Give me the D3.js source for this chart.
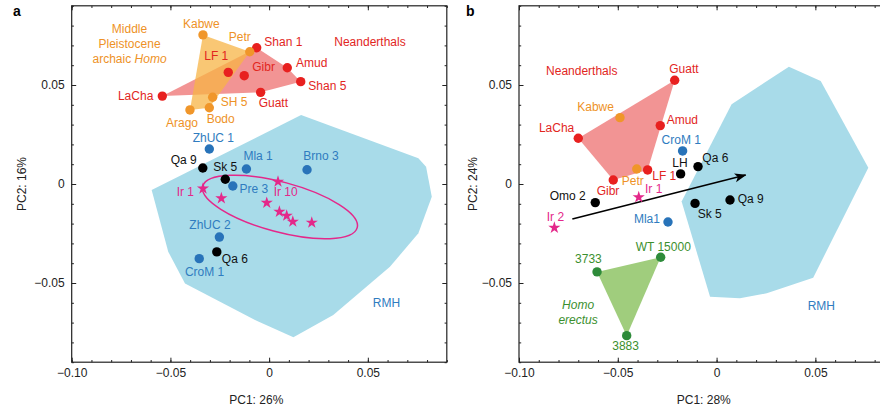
<!DOCTYPE html>
<html><head><meta charset="utf-8">
<script src="https://cdn.jsdelivr.net/npm/d3@7"></script>
<style>
body{margin:0;background:#fff;}
svg{display:block;font-family:"Liberation Sans",Arial,Helvetica,sans-serif;}
</style></head><body>
<svg id="chart" width="880" height="407"></svg>
<script>
// ---------------- DATA (PC1, PC2) ----------------
// Panel a
const aNeanderthals = [
  {name:"Shan 1", pc1:-0.0063, pc2:0.0688},
  {name:"LF 1",   pc1:-0.0207, pc2:0.0564},
  {name:"Gibr",   pc1:-0.0126, pc2:0.0547},
  {name:"Amud",   pc1:0.0092,  pc2:0.0587},
  {name:"Shan 5", pc1:0.0160,  pc2:0.0517},
  {name:"Guatt",  pc1:-0.0043, pc2:0.0463},
  {name:"LaCha",  pc1:-0.0541, pc2:0.0444}
];
const aArchaic = [
  {name:"Kabwe", pc1:-0.0335, pc2:0.0753},
  {name:"Petr",  pc1:-0.0098, pc2:0.0668},
  {name:"SH 5",  pc1:-0.0286, pc2:0.0438},
  {name:"Bodo",  pc1:-0.0303, pc2:0.0385},
  {name:"Arago", pc1:-0.0401, pc2:0.0374}
];
const aFossilMH = [
  {name:"ZhUC 1", pc1:-0.0303, pc2:0.0177},
  {name:"Mla 1",  pc1:-0.0115, pc2:0.0076},
  {name:"Brno 3", pc1:0.0192,  pc2:0.0072},
  {name:"Pre 3",  pc1:-0.0184, pc2:-0.0010},
  {name:"ZhUC 2", pc1:-0.0252, pc2:-0.0268},
  {name:"CroM 1", pc1:-0.0354, pc2:-0.0377}
];
const aQafzehSkhul = [
  {name:"Qa 9", pc1:-0.0336, pc2:0.0081},
  {name:"Sk 5", pc1:-0.0222, pc2:0.0024},
  {name:"Qa 6", pc1:-0.0265, pc2:-0.0343}
];
const aIrhoud = [
  {name:"Ir 1",  pc1:-0.0335, pc2:-0.0023},
  {name:"",      pc1:-0.0242, pc2:-0.0072},
  {name:"Ir 10", pc1:0.0045,  pc2:0.0012},
  {name:"",      pc1:-0.0012, pc2:-0.0095},
  {name:"",      pc1:0.0052,  pc2:-0.0140},
  {name:"",      pc1:0.0089,  pc2:-0.0160},
  {name:"",      pc1:0.0120,  pc2:-0.0190},
  {name:"",      pc1:0.0216,  pc2:-0.0195}
];
const aIrhoudEllipse = {pc1:0.0055, pc2:-0.0116, r1:0.0405, r2:0.0126, angle:15};
const aRMH = [
  [0.0162,0.0348],[0.0756,0.0130],[0.0795,0.0087],[0.0824,-0.0064],[0.0756,-0.0249],
  [0.0612,-0.0418],[0.0325,-0.0662],[0.0123,-0.0774],[-0.0055,-0.0695],
  [-0.0426,-0.0502],[-0.0511,-0.0342],[-0.0595,-0.0030]
];
// Panel b
const bNeanderthals = [
  {name:"Guatt", pc1:-0.0212, pc2:0.0524},
  {name:"Amud",  pc1:-0.0285, pc2:0.0295},
  {name:"LaCha", pc1:-0.0700, pc2:0.0231},
  {name:"LF 1",  pc1:-0.0349, pc2:0.0071},
  {name:"Gibr",  pc1:-0.0523, pc2:0.0020}
];
const bArchaic = [
  {name:"Kabwe", pc1:-0.0489, pc2:0.0335},
  {name:"Petr",  pc1:-0.0404, pc2:0.0076}
];
const bFossilMH = [
  {name:"CroM 1", pc1:-0.0172, pc2:0.0167},
  {name:"Mla1",   pc1:-0.0246, pc2:-0.0192}
];
const bBlack = [
  {name:"Qa 6",  pc1:-0.0094, pc2:0.0088},
  {name:"LH",    pc1:-0.0182, pc2:0.0051},
  {name:"Omo 2", pc1:-0.0614, pc2:-0.0094},
  {name:"Sk 5",  pc1:-0.0109, pc2:-0.0098},
  {name:"Qa 9",  pc1:0.0068,  pc2:-0.0081}
];
const bIrhoud = [
  {name:"Ir 1", pc1:-0.0394, pc2:-0.0067},
  {name:"Ir 2", pc1:-0.0821, pc2:-0.0221}
];
const bErectus = [
  {name:"WT 15000", pc1:-0.0283, pc2:-0.0370},
  {name:"3733",     pc1:-0.0605, pc2:-0.0444},
  {name:"3883",     pc1:-0.0455, pc2:-0.0766}
];
const bArrow = [[-0.0730,-0.0177],[0.0147,0.0045]];
const bRMH = [
  [0.0366,0.0592],[0.0527,0.0520],[0.0768,0.0082],[0.0489,-0.0473],[0.0254,-0.0552],
  [0.0118,-0.0577],[-0.0033,-0.0569],[-0.0177,-0.0089],[0.0076,0.0403]
];
// Axes
const xDomain = [-0.10, 0.09];
const yDomain = [-0.09, 0.09];
const xTickLabels = [-0.10, -0.05, 0, 0.05];
const yTickLabels = [-0.05, 0, 0.05];
const minorX = d3.range(-10, 10).map(i => i/100);
const minorY = d3.range(-9, 10).map(i => i/100);
const xTitles = ["PC1: 26%", "PC1: 28%"];
const yTitles = ["PC2: 16%", "PC2: 24%"];

// ---------------- LAYOUT / STYLE ----------------
const C = {
  red:"#e8201f", redText:"#e2261e", redFill:"#f29494",
  orange:"#f0962a", orangeText:"#ee9226", orangeFill:"rgb(247,180,70)",
  blue:"#2873b9", blueText:"#2f7cc0",
  black:"#000", pink:"#e4288a",
  green:"#2e8b3a", greenText:"#3b8f2e", greenFill:"#a0cd7d",
  rmh:"#a8dbe9"
};
// label offsets in px: [dx, dy, anchor]
const aLabelPos = {
  "Kabwe":[-20,-6.5,"start"], "Petr":[-21,-11,"start"], "Shan 1":[7.6,-2,"start"],
  "LF 1":[-24,-12,"start"], "Gibr":[8,-5,"start"], "Amud":[8.7,-1,"start"],
  "Shan 5":[7.6,8.3,"start"], "Guatt":[-2,15,"start"], "LaCha":[-9,4,"end"],
  "SH 5":[8,8.7,"start"], "Bodo":[-2.6,15.6,"start"], "Arago":[-24,17.3,"start"],
  "ZhUC 1":[-16.6,-7.3,"start"], "Qa 9":[-6,-4,"end"], "Sk 5":[-12,-8.6,"start"],
  "Mla 1":[-3,-9,"start"], "Brno 3":[-3.7,-9.7,"start"], "Pre 3":[6.6,7.3,"start"],
  "Ir 10":[-4.3,14,"start"], "Ir 1":[-9,7,"end"], "ZhUC 2":[-30,-7.7,"start"],
  "Qa 6":[5,11.3,"start"], "CroM 1":[-14.3,17.3,"start"]
};
const bLabelPos = {
  "Guatt":[-5.4,-7.6,"start"], "Kabwe":[-6,-6.7,"end"], "Amud":[6.4,-1.7,"start"],
  "LaCha":[-4,-6.6,"end"], "CroM 1":[-21,-6.7,"start"], "Qa 6":[4.3,-5,"start"],
  "LH":[-8.4,-7.3,"start"], "Petr":[-15,16,"start"], "LF 1":[4.6,10,"start"],
  "Gibr":[-16.6,15,"start"], "Ir 1":[6.3,-4,"start"], "Omo 2":[-9.6,-2.7,"end"],
  "Ir 2":[-7.6,-7,"start"], "Mla1":[-8,1.3,"end"], "Sk 5":[2.7,15,"start"],
  "Qa 9":[7.7,3.3,"start"], "WT 15000":[-25,-6.6,"start"], "3733":[-22,-8.7,"start"],
  "3883":[-14.4,14.3,"start"]
};

const svg = d3.select("#chart");
const FS = 12;
const yScale = d3.scaleLinear(yDomain, [362.2, 5.8]);
const xA = d3.scaleLinear(xDomain, [71.7, 446.8]);
const xB = d3.scaleLinear(xDomain, [519, 894.4]);
const fmt = v => v === 0 ? "0" : (v < 0 ? "\u2212" : "") + Math.abs(v).toFixed(2);

function frame(x, y, opts) {
  const g = svg.append("g");
  const [x0, x1] = x.range(), [y0, y1] = y.range();
  // ticks
  const axes = [
    {ax:d3.axisBottom(x), t:`translate(0,${y0})`, minor:minorX, major:xTickLabels, labels:true},
    {ax:d3.axisTop(x), t:`translate(0,${y1})`, minor:minorX, major:xTickLabels, labels:false},
    {ax:d3.axisLeft(y), t:`translate(${x0},0)`, minor:minorY, major:yTickLabels, labels:true}
  ];
  if (opts.right) axes.push({ax:d3.axisRight(y), t:`translate(${x1},0)`, minor:minorY, major:yTickLabels, labels:false});
  axes.forEach(a => {
    const gm = g.append("g").attr("transform", a.t)
      .call(a.ax.tickValues(a.minor).tickSizeInner(-2.2).tickSizeOuter(0).tickFormat(""));
    gm.select(".domain").remove();
    const gM = g.append("g").attr("transform", a.t)
      .call(a.ax.tickValues(a.major).tickSizeInner(-4.5).tickSizeOuter(0).tickPadding(a.ax === axes[2].ax ? 7 : 6.5)
        .tickFormat(a.labels ? fmt : ""));
    gM.select(".domain").remove();
    g.selectAll(".tick line").attr("stroke", "#222").attr("stroke-width", 1);
    gM.selectAll("text").attr("font-size", FS).attr("fill", "#222")
      .attr("font-family", '"Liberation Sans",Arial,sans-serif');
  });
  g.append("rect").attr("x", x0).attr("y", y1).attr("width", x1 - x0).attr("height", y0 - y1)
    .attr("fill", "none").attr("stroke", "#222").attr("stroke-width", 1.2);
  return g;
}

function polygon(g, x, pts, fill, op) {
  g.append("path").attr("d", "M" + pts.map(p => [x(p[0]), yScale(p[1])].join(",")).join("L") + "Z")
    .attr("fill", fill).attr("fill-opacity", op === undefined ? 1 : op);
}
function hull(g, x, group, fill, op) {
  const h = d3.polygonHull(group.map(d => [d.pc1, d.pc2]));
  polygon(g, x, h, fill, op);
}
function dots(g, x, group, color) {
  g.selectAll(null).data(group).join("circle")
    .attr("cx", d => x(d.pc1)).attr("cy", d => yScale(d.pc2)).attr("r", 4.7).attr("fill", color);
}
function stars(g, x, group, color) {
  g.selectAll(null).data(group).join("path")
    .attr("d", d3.symbol(d3.symbolStar, 46))
    .attr("transform", d => `translate(${x(d.pc1)},${yScale(d.pc2)})`).attr("fill", color);
}
function labels(g, x, group, color, pos) {
  g.selectAll(null).data(group.filter(d => d.name && pos[d.name])).join("text")
    .attr("x", d => x(d.pc1) + pos[d.name][0]).attr("y", d => yScale(d.pc2) + pos[d.name][1])
    .attr("text-anchor", d => pos[d.name][2]).attr("font-size", FS).attr("fill", color)
    .text(d => d.name);
}
function note(g, x, lines, px, py, color, anchor, italic) {
  lines.forEach((ln, i) => {
    const t = g.append("text").attr("x", x(px)).attr("y", yScale(py) + i * 15)
      .attr("text-anchor", anchor).attr("font-size", FS).attr("fill", color);
    ln.forEach(seg => t.append("tspan").attr("font-style", (italic || seg[1]) ? "italic" : "normal").text(seg[0]));
  });
}

// ---------- Panel a ----------
const gA = svg.append("g");
polygon(gA, xA, aRMH, C.rmh);
hull(gA, xA, aNeanderthals, C.redFill);
hull(gA, xA, aArchaic, C.orangeFill, 0.75);
{
  const e = aIrhoudEllipse;
  gA.append("ellipse")
    .attr("transform", `translate(${xA(e.pc1)},${yScale(e.pc2)}) rotate(${e.angle})`)
    .attr("rx", xA(e.pc1 + e.r1) - xA(e.pc1)).attr("ry", yScale(e.pc2) - yScale(e.pc2 + e.r2))
    .attr("fill", "none").attr("stroke", C.pink).attr("stroke-width", 1.5);
}
dots(gA, xA, aNeanderthals, C.red);
dots(gA, xA, aArchaic, C.orange);
dots(gA, xA, aFossilMH, C.blue);
dots(gA, xA, aQafzehSkhul, C.black);
stars(gA, xA, aIrhoud, C.pink);
labels(gA, xA, aNeanderthals, C.redText, aLabelPos);
labels(gA, xA, aArchaic, C.orangeText, aLabelPos);
labels(gA, xA, aFossilMH, C.blueText, aLabelPos);
labels(gA, xA, aQafzehSkhul, "#111", aLabelPos);
labels(gA, xA, aIrhoud, C.pink, aLabelPos);
note(gA, xA, [[["Neanderthals"]]], 0.033, 0.0698, C.redText, "start");
note(gA, xA, [[["Middle"]], [["Pleistocene"]], [["archaic "], ["Homo", true]]], -0.0707, 0.0761, C.orangeText, "middle");
note(gA, xA, [[["RMH"]]], 0.0525, -0.0623, C.blueText, "start");
frame(xA, yScale, {right:true});

// ---------- Panel b ----------
const gB = svg.append("g");
polygon(gB, xB, bRMH, C.rmh);
hull(gB, xB, bNeanderthals, C.redFill);
hull(gB, xB, bErectus, C.greenFill);
svg.append("defs").append("marker").attr("id", "arr").attr("viewBox", "0 -5 12 10")
  .attr("refX", 11).attr("refY", 0).attr("markerWidth", 12).attr("markerHeight", 10)
  .attr("markerUnits", "userSpaceOnUse").attr("orient", "auto")
  .append("path").attr("d", "M0,-4.5L12,0L0,4.5L3,0Z").attr("fill", "#000");
gB.append("path").attr("d", d3.line().x(d => xB(d[0])).y(d => yScale(d[1]))(bArrow))
  .attr("stroke", "#000").attr("stroke-width", 1.6).attr("fill", "none").attr("marker-end", "url(#arr)");
dots(gB, xB, bNeanderthals, C.red);
dots(gB, xB, bArchaic, C.orange);
dots(gB, xB, bFossilMH, C.blue);
dots(gB, xB, bBlack, C.black);
dots(gB, xB, bErectus, C.green);
stars(gB, xB, bIrhoud, C.pink);
labels(gB, xB, bNeanderthals, C.redText, bLabelPos);
labels(gB, xB, bArchaic, C.orangeText, bLabelPos);
labels(gB, xB, bFossilMH, C.blueText, bLabelPos);
labels(gB, xB, bBlack, "#111", bLabelPos);
labels(gB, xB, bErectus, C.greenText, bLabelPos);
labels(gB, xB, bIrhoud, C.pink, bLabelPos);
note(gB, xB, [[["Neanderthals"]]], -0.0863, 0.0550, C.redText, "start");
note(gB, xB, [[["RMH"]]], 0.0461, -0.0636, C.blueText, "start");
note(gB, xB, [[["Homo"]], [["erectus"]]], -0.0701, -0.0631, C.greenText, "middle", true);
frame(xB, yScale, {right:false});

// ---------- titles ----------
[[xA, 0], [xB, 1]].forEach(([x, i]) => {
  const [x0, x1] = x.range();
  svg.append("text").attr("x", x(-0.0065)).attr("y", 404).attr("text-anchor", "middle")
    .attr("font-size", FS).attr("fill", "#222").text(xTitles[i]);
  svg.append("text").attr("transform", `translate(${x0 - (i ? 42.5 : 45.7)},${yScale(0)}) rotate(-90)`)
    .attr("text-anchor", "middle").attr("font-size", FS).attr("fill", "#222").text(yTitles[i]);
});
svg.append("text").attr("x", 13).attr("y", 16).attr("font-size", 14).attr("font-weight", "bold").text("a");
svg.append("text").attr("x", 466).attr("y", 16).attr("font-size", 14).attr("font-weight", "bold").text("b");
</script></body></html>
